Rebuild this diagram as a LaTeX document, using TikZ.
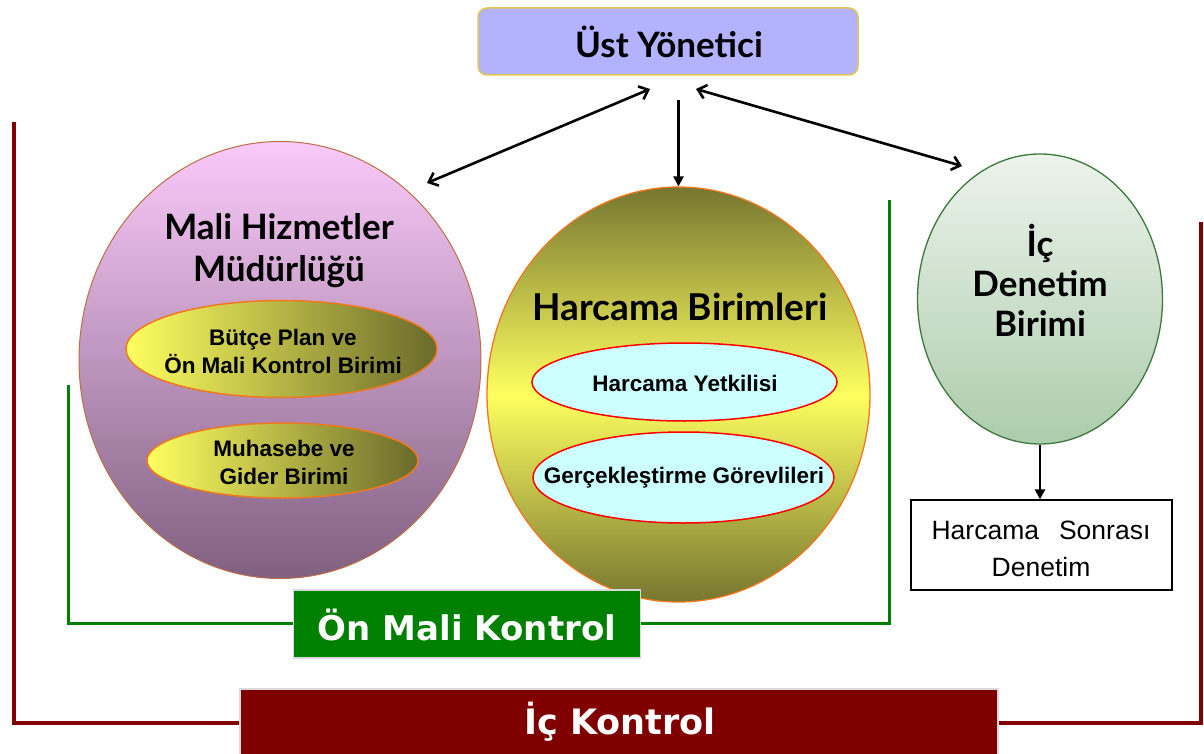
\documentclass[tikz,border=0pt]{standalone}
\usepackage{fontspec}
\setmainfont{Liberation Sans}
\newfontfamily\titlef{Lato}
\newfontfamily\boxf{DejaVu Sans}
\usetikzlibrary{shapes.geometric,arrows.meta}
\definecolor{lav}{RGB}{178,178,255}
\definecolor{goldb}{RGB}{230,200,80}
\definecolor{pinkt}{RGB}{250,202,250}
\definecolor{pinkb}{RGB}{128,96,128}
\definecolor{yel}{RGB}{255,255,96}
\definecolor{oliv}{RGB}{118,118,48}
\definecolor{orng}{RGB}{240,120,30}
\definecolor{brn}{RGB}{190,110,70}
\definecolor{cyanf}{RGB}{204,255,255}
\definecolor{grt}{RGB}{236,243,236}
\definecolor{grb}{RGB}{172,204,172}
\definecolor{grline}{RGB}{60,120,60}
\definecolor{gbox}{RGB}{0,128,0}
\definecolor{dred}{RGB}{128,0,0}
\tikzset{
  title/.style={font=\titlef\bfseries\fontsize{35}{42}\selectfont, align=center, inner sep=0pt},
  small/.style={font=\bfseries\fontsize{22.5}{28}\selectfont, align=center, inner sep=0pt},
  ell/.style={ellipse, inner sep=0pt},
  arr/.style={line width=2.6pt, {Straight Barb[length=8pt,width=14pt]}-{Straight Barb[length=8pt,width=14pt]}},
  darr/.style={line width=2.6pt, -{Triangle[length=10pt,width=10pt]}},
}
\begin{document}
\begin{tikzpicture}[x=1pt,y=-1pt]
\useasboundingbox (0,0) rectangle (1204,754);
% frames
\draw[dred, line width=3.6pt] (14,122) -- (14,723) -- (1201,723) -- (1201,222);
\draw[gbox, line width=3pt] (68,385) -- (68,623) -- (889,623) -- (889,200);
% top box
\node[draw=goldb, line width=1.5pt, fill=lav, rounded corners=9pt, minimum width=380pt, minimum height=67pt, inner sep=0pt] (ust) at (668,41.5) {};
\node[title] (ustt) at (669,42) {Üst Yönetici};
% left big ellipse
\node[ell, draw=brn, line width=1pt, top color=pinkt, bottom color=pinkb, minimum width=402pt, minimum height=437pt] (mali) at (280,360) {};
\node[title] (malit) at (279,251) {Mali Hizmetler\\Müdürlüğü};
\node[ell, draw=orng, line width=1.5pt, left color=yel, right color=oliv!90!black, minimum width=311pt, minimum height=97pt] (butce) at (281.5,349) {};
\node[small] (butcet) at (283,351) {Bütçe Plan ve\\Ön Mali Kontrol Birimi};
\node[ell, draw=orng, line width=1.5pt, left color=yel, right color=oliv!90!black, minimum width=271pt, minimum height=75pt] (muh) at (282.5,460.5) {};
\node[small] (muht) at (284,462) {Muhasebe ve\\Gider Birimi};
% middle ellipse
\node[ell, draw=orng, line width=1.3pt, top color=oliv, bottom color=oliv, middle color=yel, minimum width=383pt, minimum height=415pt] (harc) at (678.5,394.5) {};
\node[title, font=\titlef\bfseries\fontsize{37}{40}\selectfont] (harct) at (680,307) {Harcama Birimleri};
\node[ell, draw=red, line width=1.5pt, fill=cyanf, minimum width=305pt, minimum height=78pt] (yetk) at (684.5,382) {};
\node[small] (yetkt) at (685,383) {Harcama Yetkilisi};
\node[ell, draw=red, line width=1.5pt, fill=cyanf, minimum width=301pt, minimum height=91pt] (gerc) at (683.5,477.5) {};
\node[small] (gerct) at (684,478) {Gerçekleştirme Görevlileri};
% right ellipse
\node[ell, draw=grline, line width=1.3pt, top color=grt, bottom color=grb, minimum width=245pt, minimum height=290pt] (ic) at (1040,299) {};
\node[title, font=\titlef\bfseries\fontsize{35}{40}\selectfont] (ict) at (1040,280) {İç\\Denetim\\Birimi};
% box
\node[draw=black, line width=1.3pt, fill=white, minimum width=261pt, minimum height=90pt, inner sep=0pt] (sonra) at (1041.5,545) {};
\node[font=\fontsize{26.5}{37}\selectfont, align=center, inner sep=0pt] (sonrat) at (1041,549) {Harcama\hspace{20pt}Sonrası\\Denetim};
% arrows
\coordinate (a1) at (650,89);
\coordinate (a1e) at (427,183);
\coordinate (a2) at (696,89);
\coordinate (a2e) at (962,166);
\coordinate (a3) at (678.5,100);
\draw[arr] (a1e) -- (a1);
\draw[arr] (a2) -- (a2e);
\draw[darr] (a3) -- (harc.north);
\draw[darr] (ic.south) -- (ic.south |- sonra.north);
% label boxes
\node[draw=black!15, line width=1.3pt, fill=gbox, minimum width=347pt, minimum height=68pt, inner sep=0pt] (onmali) at (467,624) {};
\node[font=\boxf\bfseries\fontsize{34}{36}\selectfont, text=white, inner sep=0pt] (onmalit) at (467,625) {Ön Mali Kontrol};
\node[draw=black!15, line width=1.3pt, fill=dred, minimum width=758pt, minimum height=70pt, inner sep=0pt] (ick) at (619,724) {};
\node[font=\boxf\bfseries\fontsize{35}{38}\selectfont, text=white, inner sep=0pt] (ickt) at (620,722) {İç Kontrol};
\end{tikzpicture}
\end{document}
